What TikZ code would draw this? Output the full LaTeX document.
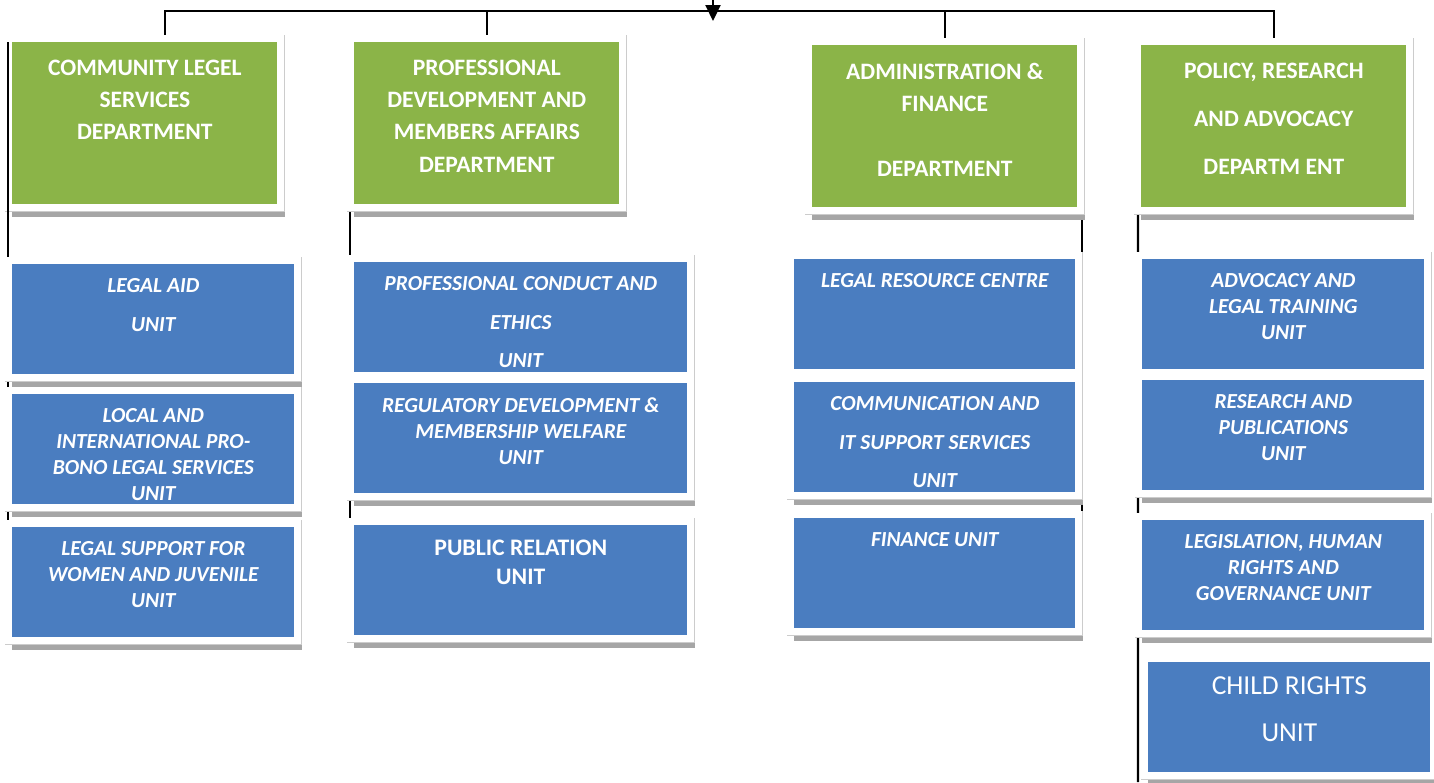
\documentclass[tikz,border=0pt]{standalone}
\usepackage{fontspec}
\setmainfont{Carlito}
\usetikzlibrary{arrows.meta}
\definecolor{deptgreen}{RGB}{139,180,72}
\definecolor{unitblue}{RGB}{74,125,192}
\pgfdeclarelayer{background}
\pgfsetlayers{background,main}
\tikzset{
framed/.style={
	preaction={draw=black!20, line width=0.31cm},
	preaction={draw=white, line width=0.28cm},
	append after command={\pgfextra{\fill[black!35]
		([yshift=-0.14cm]\tikzlastnode.south west) rectangle
		([xshift=0.15cm,yshift=-0.24cm]\tikzlastnode.south east);}}},
dept/.style={framed, fill=deptgreen, anchor=north west, inner sep=0pt,
	minimum width=5.3cm, minimum height=3.24cm},
unit/.style={framed, fill=unitblue, anchor=north west, inner sep=0pt,
	minimum width=5.64cm, minimum height=2.2cm},
dtxt/.style={anchor=north, inner sep=0pt, yshift=-0.35cm, align=center,
	text=white, font=\fontsize{13.4}{18.4}\selectfont\bfseries},
utxt/.style={anchor=north, inner sep=0pt, yshift=-0.29cm, align=center,
	text=white, font=\fontsize{12.2}{14.7}\selectfont\bfseries\itshape},
link/.style={draw=black, line width=1.2pt}
}

\begin{document}
\begin{tikzpicture}[x=0.02cm, y=-0.02cm]
	\useasboundingbox (0,0) rectangle (1434,782);
	% departments
	\node[dept, label={[dtxt]north:{COMMUNITY LEGEL\\SERVICES\\DEPARTMENT}}] (clsd) at (12,42) {};
	\node[dept, label={[dtxt]north:{PROFESSIONAL\\DEVELOPMENT AND\\MEMBERS AFFAIRS\\DEPARTMENT}}] (pdmd) at (354,42) {};
	\node[dept, label={[dtxt]north:{ADMINISTRATION \&\\FINANCE\\[18.4pt]DEPARTMENT}}] (afd) at (812,45) {};
	\node[dept, label={[dtxt]north:{POLICY, RESEARCH\\[9pt]AND ADVOCACY\\[9pt]DEPARTM ENT}}] (prad) at (1141,45) {};
	% units
	\node[unit, label={[utxt]north:{LEGAL AID\\[7pt]UNIT}}] (aid) at (12,264) {};
	\node[unit, label={[utxt]north:{LOCAL AND\\INTERNATIONAL PRO-\\BONO LEGAL SERVICES\\UNIT}}] (probono) at (12,394) {};
	\node[unit, label={[utxt]north:{LEGAL SUPPORT FOR\\WOMEN AND JUVENILE\\UNIT}}] (women) at (12,527) {};
	\node[unit, minimum width=6.66cm, label={[utxt]north:{PROFESSIONAL CONDUCT AND\\[7pt]ETHICS\\[7pt]UNIT}}] (ethics) at (354,262) {};
	\node[unit, minimum width=6.66cm, label={[utxt]north:{REGULATORY DEVELOPMENT \&\\MEMBERSHIP WELFARE\\UNIT}}] (welfare) at (354,383) {};
	\node[unit, minimum width=6.66cm, label={[utxt, font=\fontsize{13.5}{16.4}\selectfont\bfseries]north:{PUBLIC RELATION\\UNIT}}] (pr) at (354,525) {};
	\node[unit, minimum width=5.62cm, label={[utxt]north:{LEGAL RESOURCE CENTRE}}] (lrc) at (794,259) {};
	\node[unit, minimum width=5.62cm, label={[utxt]north:{COMMUNICATION AND\\[7pt]IT SUPPORT SERVICES\\[7pt]UNIT}}] (ict) at (794,382) {};
	\node[unit, minimum width=5.62cm, label={[utxt]north:{FINANCE UNIT}}] (fin) at (794,518) {};
	\node[unit, label={[utxt]north:{ADVOCACY AND\\LEGAL TRAINING\\UNIT}}] (advocacy) at (1142,259) {};
	\node[unit, label={[utxt]north:{RESEARCH AND\\PUBLICATIONS\\UNIT}}] (research) at (1142,380) {};
	\node[unit, label={[utxt]north:{LEGISLATION, HUMAN\\RIGHTS AND\\GOVERNANCE UNIT}}] (legis) at (1142,520) {};
	\node[unit, label={[utxt, font=\fontsize{15.6}{26.6}\selectfont]north:{CHILD RIGHTS\\UNIT}}] (child) at (1148,662) {};
	% connectors
	\coordinate (source) at (713,0);
	\coordinate (bar) at (713,11);
	\coordinate (foot) at (1138,782);
	\begin{pgfonlayer}{background}
		\draw[link] ([xshift=0.4cm]clsd.north) |- (bar) -| (prad.north);
		\draw[link] (pdmd.north) -- (pdmd.north |- bar);
		\draw[link] (afd.north) -- (afd.north |- bar);
		\draw[link] ([xshift=-0.08cm]aid.north west) -- ([xshift=-0.08cm]women.south west);
		\draw[link] ([xshift=-0.08cm]pdmd.south west) -- ([xshift=-0.08cm]pdmd.south west |- pr.south);
		\draw[link] ([xshift=0.08cm]afd.south east) -- ([xshift=0.08cm]afd.south east |- fin.south);
		\draw[link] ([xshift=-0.06cm]prad.south west) -- (foot);
	\end{pgfonlayer}
	\draw[link, shorten >=0.14cm] ([xshift=-0.08cm]clsd.north west) -- ([xshift=-0.08cm]aid.north west);
	\draw[link, -{Triangle[width=0.3cm, length=0.32cm]}] (source) -- ([yshift=-0.2cm]bar);
\end{tikzpicture}
\end{document}
